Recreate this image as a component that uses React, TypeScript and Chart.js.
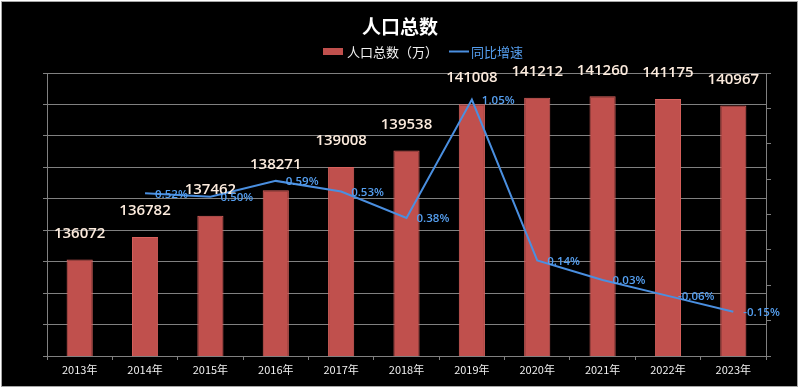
import { useEffect, useRef } from "react";
import { Chart, registerables } from "chart.js";

Chart.register(...registerables);

const categories = ["2013年", "2014年", "2015年", "2016年", "2017年", "2018年", "2019年", "2020年", "2021年", "2022年", "2023年"];
const population = [136072, 136782, 137462, 138271, 139008, 139538, 141008, 141212, 141260, 141175, 140967];
const growth: (number | null)[] = [null, 0.52, 0.5, 0.59, 0.53, 0.38, 1.05, 0.14, 0.03, -0.06, -0.15];

const chartTitle = "人口总数";
const barLabel = "人口总数（万）";
const lineLabel = "同比增速";

const GRID = "#808080";
const BAR = "#C0504D";
const BAR_BORDER = "#D8625E";
const LINE = "#4A8FE0";
const LINE_TEXT = "#559FF0";
const CJK = '"Noto Sans CJK SC", sans-serif';

const framePlugin = {
  id: "frame",
  beforeDraw(chart: any) {
    const { ctx, width, height } = chart;
    ctx.save();
    ctx.fillStyle = "#ffffff";
    ctx.fillRect(0, 0, width, height);
    ctx.fillStyle = "#000000";
    ctx.fillRect(1, 1, 796, 385);
    ctx.strokeStyle = "#a6a6a6";
    ctx.lineWidth = 1;
    ctx.strokeRect(1.5, 1.5, 796, 385);
    ctx.restore();
  },
  afterDraw(chart: any) {
    const { ctx } = chart;
    ctx.save();
    ctx.fillStyle = "#ffffff";
    ctx.font = `bold 19px ${CJK}`;
    ctx.textAlign = "center";
    ctx.textBaseline = "middle";
    ctx.fillText(chartTitle, 400, 27);

    // legend
    ctx.textAlign = "left";
    ctx.font = `13px ${CJK}`;
    ctx.fillStyle = BAR;
    ctx.fillRect(323, 48, 20, 7);
    ctx.fillStyle = "#f2f2f2";
    ctx.fillText(barLabel, 347, 52);
    const w1 = ctx.measureText(barLabel).width;
    const lx = 347 + w1 + 11;
    ctx.strokeStyle = LINE;
    ctx.lineWidth = 2;
    ctx.beginPath();
    ctx.moveTo(lx, 51.5);
    ctx.lineTo(lx + 20, 51.5);
    ctx.stroke();
    ctx.fillStyle = LINE_TEXT;
    ctx.fillText(lineLabel, lx + 22, 52);
    ctx.restore();
  },
  afterDatasetsDraw(chart: any) {
    const { ctx } = chart;
    ctx.save();
    const barMeta = chart.getDatasetMeta(0);
    ctx.font = '600 15px "Open Sans", sans-serif';
    ctx.fillStyle = "#FCEBDD";
    ctx.textAlign = "center";
    ctx.textBaseline = "middle";
    barMeta.data.forEach((el: any, i: number) => {
      ctx.fillText(String(population[i]), el.x, el.y - 26);
    });
    const lineMeta = chart.getDatasetMeta(1);
    ctx.font = '600 11.5px "Open Sans", sans-serif';
    ctx.fillStyle = LINE_TEXT;
    ctx.textAlign = "left";
    lineMeta.data.forEach((el: any, i: number) => {
      const v = growth[i];
      if (v === null || v === undefined) return;
      ctx.fillText(v.toFixed(2) + "%", el.x + 10, el.y + 1);
    });
    ctx.restore();
  },
};

export default function App() {
  const ref = useRef<HTMLCanvasElement | null>(null);
  useEffect(() => {
    document.body.style.margin = "0";
    const canvas = ref.current;
    if (!canvas) return;
    const chart = new Chart(canvas, {
      type: "bar",
      data: {
        labels: categories,
        datasets: [
          {
            type: "bar",
            label: barLabel,
            data: population,
            backgroundColor: BAR,
            borderColor: BAR_BORDER,
            borderWidth: 1,
            barPercentage: 0.4,
            categoryPercentage: 1,
            yAxisID: "y",
            order: 1,
          },
          {
            type: "line",
            label: lineLabel,
            data: growth,
            borderColor: LINE,
            borderWidth: 2,
            pointRadius: 0,
            tension: 0,
            yAxisID: "y1",
            order: 0,
          } as any,
        ],
      },
      options: {
        responsive: false,
        animation: false,
        layout: { padding: { left: 43, right: 29, top: 73, bottom: 0 } },
        plugins: {
          legend: { display: false },
          title: { display: false },
          tooltip: { enabled: false },
        },
        scales: {
          x: {
            grid: { display: true, drawOnChartArea: false, drawTicks: true, tickLength: 4, color: GRID, offset: true },
            border: { display: true, color: GRID },
            ticks: { color: "#f0f0f0", font: { family: CJK, size: 11 }, padding: 3, maxRotation: 0, autoSkip: false },
            afterFit: (s: any) => {
              s.height = 33;
            },
          },
          y: {
            position: "left",
            min: 133000,
            max: 142000,
            ticks: { display: false, stepSize: 1000 },
            grid: { color: GRID, tickLength: 4 },
            border: { display: true, color: GRID },
            afterFit: (s: any) => {
              s.width = 4;
            },
          },
          y1: {
            position: "right",
            min: -0.4,
            max: 1.2,
            ticks: { display: false, stepSize: 0.2 },
            grid: { drawOnChartArea: false, tickLength: 5, color: GRID },
            border: { display: true, color: GRID },
            afterFit: (s: any) => {
              s.width = 5;
            },
          },
        },
      } as any,
      plugins: [framePlugin],
    });
    return () => chart.destroy();
  }, []);
  return (
    <div style={{ width: 800, height: 389 }}>
      <canvas ref={ref} width={800} height={389} style={{ display: "block" }} />
    </div>
  );
}
